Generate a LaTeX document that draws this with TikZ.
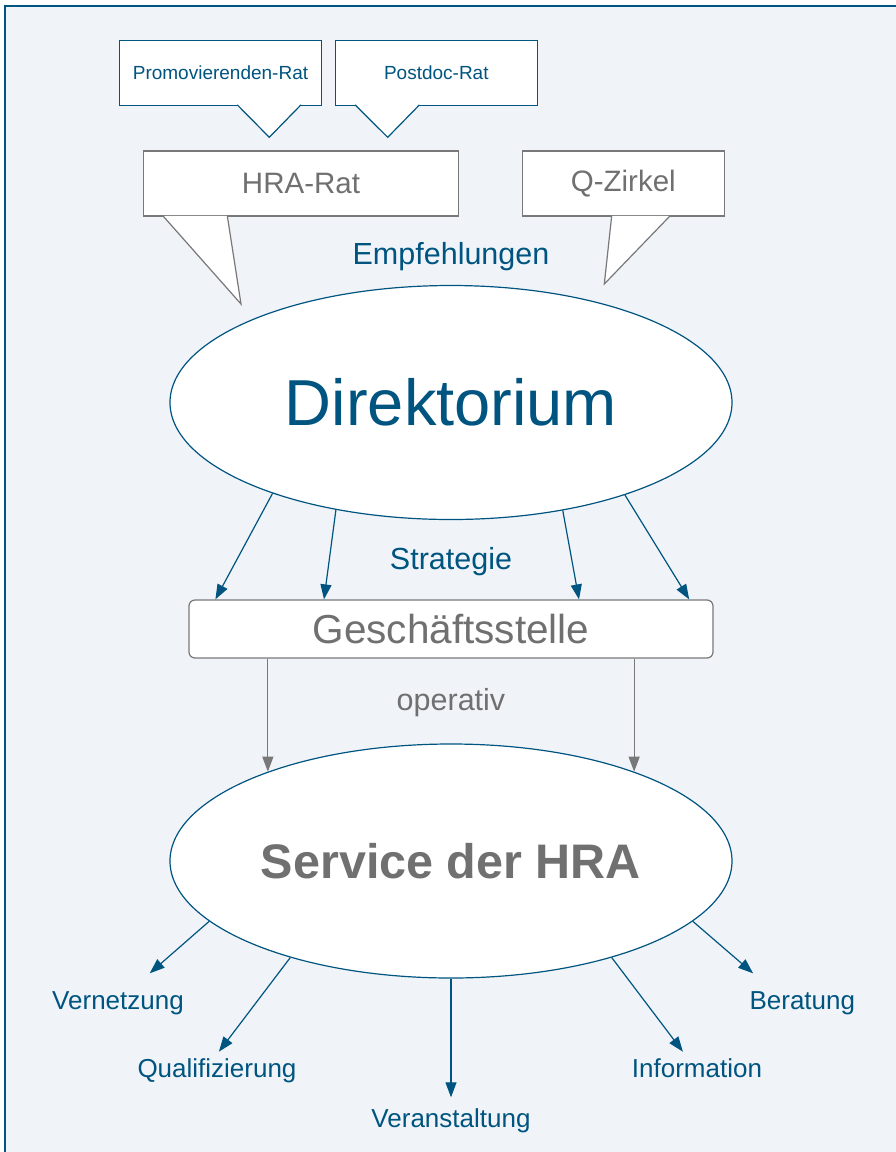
\documentclass[tikz,border=0pt]{standalone}
\usepackage{fontspec}
\setmainfont{Liberation Sans}
\usetikzlibrary{shapes.geometric,arrows.meta}

\definecolor{hrablue}{RGB}{0,84,128}
\definecolor{hragray}{RGB}{112,112,112}
\definecolor{hraline}{RGB}{120,120,120}
\definecolor{hrabg}{RGB}{240,244,249}

\begin{document}
\begin{tikzpicture}[
    x=1pt, y=-1pt,
    oval/.style={ellipse, draw=hrablue, fill=white, line width=1.2pt, minimum width=562pt, minimum height=234pt, inner sep=0pt},
    ratbox/.style={rectangle, draw=hrablue, fill=white, line width=1.2pt, inner sep=0pt, minimum height=65pt, text=hrablue, font=\fontsize{19}{22}\selectfont},
    talkbox/.style={rectangle, draw=hraline, fill=white, line width=1.2pt, inner sep=0pt, minimum height=65pt, text=hragray, font=\fontsize{29.5}{34}\selectfont},
    pointer/.style={fill=white, line width=1.2pt},
    lbl/.style={anchor=base, inner sep=0pt, font=\fontsize{30.5}{36}\selectfont},
    task/.style={anchor=base, inner sep=0pt, text=hrablue, font=\fontsize{26}{30}\selectfont},
    arrow/.style={-{Triangle[length=15pt,width=11pt]}, line width=1.2pt, draw=hrablue},
    garrow/.style={arrow, draw=hraline}
  ]
    % Frame
    \useasboundingbox (0,0) rectangle (896,1152);
    \fill[white] (0,0) rectangle (896,1152);
    \clip (0,0) rectangle (896,1152);
    \draw[hrablue, line width=2pt, fill=hrabg] (5,6) rectangle (910,1170);

    % Councils (speech bubbles)
    \node[ratbox, minimum width=202pt] (prom) at (220.5,72.6) {Promovierenden-Rat};
    \filldraw[pointer, draw=hrablue] ([xshift=118.4pt,yshift=0.8pt]prom.south west) -- (269.3,137.3) -- ([xshift=182pt,yshift=0.8pt]prom.south west);
    \node[ratbox, minimum width=202pt] (post) at (436.3,72.6) {Postdoc-Rat};
    \filldraw[pointer, draw=hrablue] ([xshift=20.4pt,yshift=0.8pt]post.south west) -- (387.7,137.3) -- ([xshift=84.7pt,yshift=0.8pt]post.south west);

    \node[talkbox, minimum width=315pt] (hra) at (301,183.5) {HRA-Rat};
    \filldraw[pointer, draw=hraline] ([xshift=20pt,yshift=0.8pt]hra.south west) -- (241,304) -- ([xshift=84.4pt,yshift=0.8pt]hra.south west);
    \node[talkbox, minimum width=202pt] (qz) at (623.3,183.5) {Q-Zirkel};
    \filldraw[pointer, draw=hraline] ([xshift=90pt,yshift=0.8pt]qz.south west) -- (604.3,284) -- ([xshift=148.4pt,yshift=0.8pt]qz.south west);

    \node[lbl, text=hrablue] (empf) at (451,264.3) {Empfehlungen};

    % Main nodes
    \node[oval, text=hrablue, font=\fontsize{65}{70}\selectfont] (dir) at (451,402.5) {Direktorium};
    \node[rectangle, rounded corners=6pt, draw=hraline, fill=white, line width=1.2pt, minimum width=524pt, minimum height=58pt, inner sep=0pt, text=hragray, font=\fontsize{40.5}{44}\selectfont] (gst) at (451,629) {Geschäftsstelle};
    \node[oval, text=hragray, font=\fontsize{48.5}{54}\selectfont\bfseries] (svc) at (451,861) {Service der HRA};

    \node[lbl, text=hrablue] (strat) at (451,569.3) {Strategie};
    \node[lbl, text=hragray] (oper) at (451,710.7) {operativ};

    % Arrows
    \draw[arrow] (dir.207.3) -- ([xshift=27pt]gst.north west);
    \draw[arrow] (dir.223.7) -- ([xshift=135.6pt]gst.north west);
    \draw[arrow] (dir.316.3) -- ([xshift=-134.6pt]gst.north east);
    \draw[arrow] (dir.332.7) -- ([xshift=-24.4pt]gst.north east);

    \draw[garrow] (gst.south -| svc.154) -- (svc.154);
    \draw[garrow] (gst.south -| svc.26) -- (svc.26);

    % Services
    \node[task] (vern) at (118,1009) {Vernetzung};
    \node[task] (qual) at (217,1077.3) {Qualifizierung};
    \node[task] (vera) at (451,1127.7) {Veranstaltung};
    \node[task] (info) at (697,1077.3) {Information};
    \node[task] (bera) at (802.3,1009) {Beratung};

    \coordinate (vernT) at (149.7,973.3);
    \coordinate (qualT) at (218.9,1051.7);
    \coordinate (veraT) at (451,1097.3);
    \coordinate (infoT) at (682.9,1051.7);
    \coordinate (beraT) at (753.1,973.3);

    \draw[arrow] (svc.194) -- (vernT);
    \draw[arrow] (svc.211) -- (qualT);
    \draw[arrow] (svc.270) -- (veraT);
    \draw[arrow] (svc.329) -- (infoT);
    \draw[arrow] (svc.346) -- (beraT);
  \end{tikzpicture}
\end{document}
